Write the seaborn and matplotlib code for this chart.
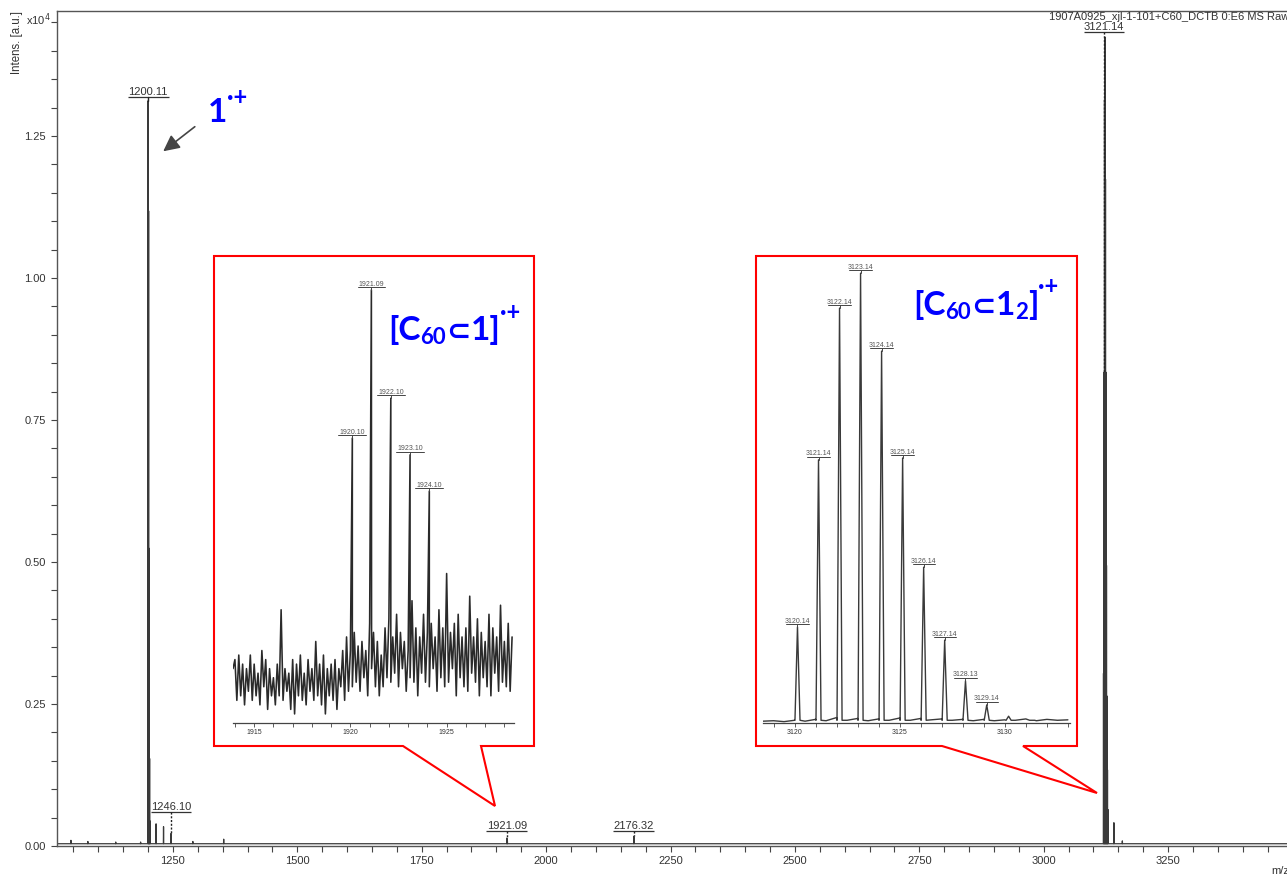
import numpy as np
import pandas as pd
import matplotlib
matplotlib.use("Agg")
import matplotlib.pyplot as plt
from matplotlib.patches import Polygon
from matplotlib.ticker import MultipleLocator, FixedLocator, FormatStrFormatter
import seaborn as sns

# ---------------- data ----------------
# Full-range MALDI spectrum (intensity in units of 1e4 a.u.)
main_mz = [1045.0, 1079.0, 1135.0, 1185.0,
           1200.11, 1201.11, 1202.11, 1203.11, 1204.11, 1216.10, 1231.10, 1246.10,
           1290.0, 1352.0, 1921.09, 1922.10, 2176.32,
           3120.14, 3121.14, 3122.14, 3123.14, 3124.14, 3125.14, 3126.14, 3127.14,
           3128.13, 3129.14, 3141.0, 3158.0]
main_int = [0.006, 0.004, 0.003, 0.003,
            1.308, 1.114, 0.520, 0.150, 0.040, 0.035, 0.030, 0.018,
            0.004, 0.008, 0.010, 0.006, 0.013,
            0.30, 0.83, 1.31, 1.42, 1.17, 0.83, 0.49, 0.26,
            0.13, 0.06, 0.037, 0.005]
main_baseline = 0.004
main_labelled = [1200.11, 1246.10, 1921.09, 2176.32, 3121.14]
main_ticks = [1250, 1500, 1750, 2000, 2250, 2500, 2750, 3000, 3250]

# Zoom 1: [C60 ⊂ 1]·+ region (relative intensity)
z1_peak_mz = [1920.10, 1921.09, 1922.10, 1923.10, 1924.10]
z1_peak_int = [0.629, 0.956, 0.717, 0.592, 0.512]
z1_noise_start = 1913.9
z1_noise_step = 0.1
z1_noise = [
    0.12,
    0.14, 0.05, 0.15, 0.06, 0.13, 0.04, 0.12, 0.07, 0.15, 0.05,
    0.13, 0.06, 0.11, 0.04, 0.16, 0.08, 0.14, 0.03, 0.12, 0.06,
    0.10, 0.04, 0.13, 0.06, 0.25, 0.05, 0.12, 0.07, 0.11, 0.03,
    0.14, 0.02, 0.13, 0.06, 0.15, 0.05, 0.11, 0.04, 0.14, 0.07,
    0.12, 0.05, 0.18, 0.06, 0.13, 0.04, 0.15, 0.02, 0.12, 0.06,
    0.13, 0.05, 0.14, 0.03, 0.12, 0.08, 0.16, 0.05, 0.19, 0.07,
    0.16, 0.08, 0.20, 0.09, 0.17, 0.07, 0.18, 0.10, 0.16, 0.06,
    0.22, 0.12, 0.20, 0.08, 0.18, 0.06, 0.15, 0.08, 0.21, 0.10,
    0.23, 0.09, 0.19, 0.11, 0.24, 0.08, 0.20, 0.12, 0.18, 0.07,
    0.16, 0.10, 0.27, 0.09, 0.21, 0.06, 0.19, 0.11, 0.24, 0.09,
    0.20, 0.08, 0.22, 0.12, 0.19, 0.07, 0.25, 0.10, 0.21, 0.08,
    0.33, 0.09, 0.20, 0.12, 0.22, 0.06, 0.24, 0.10, 0.19, 0.08,
    0.21, 0.07, 0.28, 0.11, 0.19, 0.09, 0.23, 0.06, 0.20, 0.10,
    0.18, 0.08, 0.24, 0.06, 0.21, 0.11, 0.19, 0.07, 0.26, 0.09,
    0.18, 0.08, 0.22, 0.07, 0.19,
]

# Zoom 2: [C60 ⊂ 1_2]·+ isotope cluster (relative intensity)
z2_peak_mz = [3120.14, 3121.14, 3122.14, 3123.14, 3124.14, 3125.14,
              3126.14, 3127.14, 3128.13, 3129.14, 3130.18, 3131.30]
z2_peak_int = [0.212, 0.581, 0.916, 0.993, 0.821, 0.585,
               0.344, 0.183, 0.093, 0.040, 0.015, 0.006]
z2_labelled = z2_peak_mz[:10]
z2_base_start = 3118.5
z2_base_step = 0.5
z2_base = [0.004, 0.005, 0.003, 0.006, 0.004, 0.008, 0.005, 0.012, 0.006, 0.010,
           0.005, 0.009, 0.006, 0.011, 0.006, 0.010, 0.007, 0.009, 0.006, 0.008,
           0.005, 0.008, 0.005, 0.007, 0.006, 0.009, 0.005, 0.008, 0.006, 0.007]

# ---------------- style ----------------
sns.set_theme(style="ticks")
plt.rcParams["font.family"] = ["Liberation Sans", "DejaVu Sans"]
plt.rcParams["axes.linewidth"] = 1.0

W, H = 1287, 877
DPI = 100
LINE = "#3a3a3a"
TXT = "#333333"
BLUE = "#0000ff"


def fx(px):
    return px / W


def fy(py):
    return 1 - py / H


def stick_profile(mz, inten, base, half):
    xs, ys = [], []
    for m, h in sorted(zip(mz, inten)):
        xs += [m - half, m, m + half]
        ys += [base, base + h, base]
    return xs, ys


fig = plt.figure(figsize=(W / DPI, H / DPI), dpi=DPI)

# ---------------- main axes ----------------
ax = fig.add_axes([fx(57), fy(846), fx(1297.5) - fx(57), fy(11) - fy(846)])
ax.set_zorder(1)
xs, ys = stick_profile(main_mz, main_int, main_baseline, 0.35)
xs = [1017.0] + xs + [3510.0]
ys = [main_baseline] + ys + [main_baseline]
sns.lineplot(x=xs, y=ys, sort=False, estimator=None, color=LINE, linewidth=0.9, ax=ax)
ax.set_xlim(1017, 3510)
ax.set_ylim(0, 1.470)
ax.xaxis.set_major_locator(FixedLocator(main_ticks))
ax.xaxis.set_minor_locator(MultipleLocator(50))
ax.yaxis.set_major_locator(MultipleLocator(0.25))
ax.yaxis.set_minor_locator(MultipleLocator(0.05))
ax.yaxis.set_major_formatter(FormatStrFormatter("%.2f"))
ax.xaxis.set_major_formatter(FormatStrFormatter("%d"))
ax.tick_params(which="both", direction="out", length=4, width=0.8, color="#444",
               labelsize=8, labelcolor=TXT, top=False, right=False)
ax.tick_params(axis="y", pad=4)
for s in ax.spines.values():
    s.set_color("#555")
    s.set_linewidth(1.0)
ax.set_xlabel("")
ax.set_ylabel("")


def main_height(m):
    return main_baseline + main_int[main_mz.index(m)]


# peak annotations on the full spectrum
label_ul = {1200.11: None, 1246.10: 0.060, 1921.09: 0.026, 2176.32: 0.026, 3121.14: 1.433}
for m in main_labelled:
    tip = main_height(m)
    ul = label_ul[m] if label_ul[m] is not None else tip + 0.007
    ax.plot([m - 41, m + 41], [ul, ul], color=TXT, lw=0.9, solid_capstyle="butt")
    ax.annotate(f"{m:.2f}", xy=(m, ul), xytext=(0, 1.3), textcoords="offset points",
                ha="center", va="baseline", fontsize=8, color=TXT)
    ls = "-" if m == 1200.11 else (0, (1.5, 1.2))
    ax.plot([m, m], [ul, tip], color="#222", lw=1.0, ls=ls)

# header / axis annotations
fig.text(fx(1049), fy(20), "1907A0925_xjl-1-101+C60_DCTB 0:E6 MS Raw",
         fontsize=8, color=TXT, ha="left", va="baseline")
fig.text(fx(26), fy(25), r"x10$^{4}$", fontsize=8, color=TXT, ha="left", va="baseline")
fig.text(fx(17), fy(11), "Intens. [a.u.]", fontsize=8.3, color=TXT, rotation=90,
         ha="center", va="top")
fig.text(fx(1271), fy(874), "m/z", fontsize=8, color=TXT, ha="left", va="baseline")

# ---------------- callout frames ----------------
box1 = [(214, 256), (534, 256), (534, 746), (481, 746), (495, 806), (403, 746), (214, 746)]
box2 = [(756, 256), (1077, 256), (1077, 746), (1023, 746), (1097, 793), (942, 746), (756, 746)]
for pts in (box1, box2):
    poly = Polygon([(fx(x), fy(y)) for x, y in pts], closed=True,
                   transform=fig.transFigure, facecolor="white",
                   edgecolor="#ff0000", linewidth=1.5, zorder=2)
    fig.add_artist(poly)


def style_zoom(a, lo, hi):
    a.set_zorder(3)
    a.patch.set_alpha(0)
    a.set_xlim(lo, hi)
    a.set_ylim(0, 1)
    a.set_yticks([])
    for side in ("left", "right", "top"):
        a.spines[side].set_visible(False)
    a.spines["bottom"].set_color("#444")
    a.spines["bottom"].set_linewidth(0.9)
    a.xaxis.set_major_locator(MultipleLocator(5))
    a.xaxis.set_minor_locator(MultipleLocator(1))
    a.xaxis.set_major_formatter(FormatStrFormatter("%d"))
    a.tick_params(axis="x", which="both", direction="out", length=3, width=0.6,
                  color="#444", labelsize=5, labelcolor=TXT, pad=1.5)
    a.set_xlabel("")
    a.set_ylabel("")


def zoom_labels(a, mz, inten, half):
    for i, m in enumerate(mz):
        h = inten[i]
        ul = h + 0.006
        a.plot([m - half, m + half], [ul, ul], color="#444", lw=0.7)
        a.plot([m, m], [h, ul], color="#444", lw=0.7)
        a.annotate(f"{m:.2f}", xy=(m, ul), xytext=(0, 1.2), textcoords="offset points",
                   ha="center", va="baseline", fontsize=5, color="#555")


# ---------------- zoom 1 ----------------
ax1 = fig.add_axes([fx(233), fy(723), fx(514) - fx(233), fy(270) - fy(723)])
z1_x = [z1_noise_start + z1_noise_step * i for i in range(len(z1_noise))]
pts = sorted(list(zip(z1_x, z1_noise)) + list(zip(z1_peak_mz, z1_peak_int)))
sns.lineplot(x=[p[0] for p in pts], y=[p[1] for p in pts], sort=False, estimator=None,
             color="#2a2a2a", linewidth=1.15, ax=ax1)
style_zoom(ax1, 1913.9, 1928.5)
zoom_labels(ax1, z1_peak_mz, z1_peak_int, 0.72)

# ---------------- zoom 2 ----------------
ax2 = fig.add_axes([fx(763), fy(723), fx(1070) - fx(763), fy(270) - fy(723)])
half2 = 0.12
z2_bx = [z2_base_start + z2_base_step * i for i in range(len(z2_base))]
base_pts = [(x, y) for x, y in zip(z2_bx, z2_base)
            if all(abs(x - m) > half2 for m in z2_peak_mz)]
peak_pts = []
for m, h in zip(z2_peak_mz, z2_peak_int):
    peak_pts += [(m - half2, 0.006), (m, h), (m + half2, 0.006)]
pts2 = sorted(base_pts + peak_pts)
sns.lineplot(x=[p[0] for p in pts2], y=[p[1] for p in pts2], sort=False, estimator=None,
             color=LINE, linewidth=1.0, ax=ax2)
style_zoom(ax2, 3118.5, 3133.1)
zoom_labels(ax2, z2_labelled, z2_peak_int, 0.53)

# ---------------- species labels ----------------
renderer = fig.canvas.get_renderer()
LATO = ["Lato", "DejaVu Sans"]
DJV = ["DejaVu Sans"]


def species(x_px, base_px, pieces):
    x = x_px
    for s, size, dy, fam in pieces:
        t = fig.text(fx(x), fy(base_px - dy), s, fontsize=size, fontweight="bold",
                     color=BLUE, family=fam, ha="left", va="baseline", zorder=6)
        x += t.get_window_extent(renderer).width


species(208, 122, [("1", 24, 0, LATO), ("·+", 17, 17, LATO)])
species(388, 340, [("[C", 24, 0, LATO), ("60", 16, -4, LATO), ("\u2282", 21, 0, DJV),
                   ("1]", 24, 0, LATO), ("·+", 17, 20, LATO)])
species(913, 315, [("[C", 24, 0, LATO), ("60", 16, -4, LATO), ("\u2282", 21, 0, DJV),
                   ("1", 24, 0, LATO), ("2", 16, -4, LATO), ("]", 24, 0, LATO),
                   ("·+", 17, 21, LATO)])

# arrow pointing at the monomer peak
ax.annotate("", xy=(161, H - 153), xycoords="figure pixels",
            xytext=(197, H - 125), textcoords="figure pixels",
            arrowprops=dict(arrowstyle="-|>,head_length=0.7,head_width=0.35",
                            color="#454545", lw=1.2, mutation_scale=14))

fig.savefig("out.png", dpi=DPI)
